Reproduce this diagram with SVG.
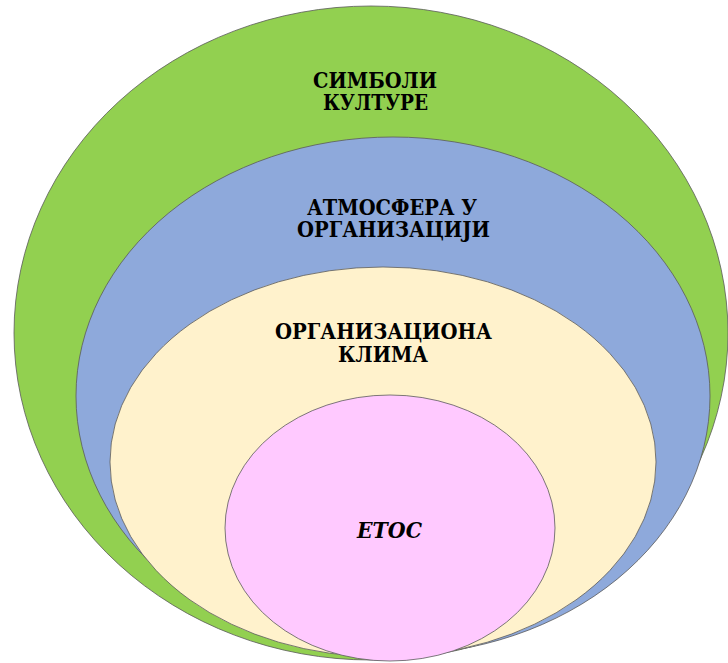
<svg xmlns="http://www.w3.org/2000/svg" width="728" height="663" viewBox="0 0 728 663">
  <style>
    .ring { stroke: #5a5a5a; stroke-width: 0.8; }
    .label { font-family: "DejaVu Serif", serif; font-stretch: condensed; font-size: 22px; font-weight: bold; fill: #000; text-anchor: middle; }
    .italic { font-style: italic; }
  </style>
  <rect width="728" height="663" fill="#ffffff"/>
  <!-- Nested layers, drawn from outside in -->
  <g id="symbols">
    <ellipse class="ring" cx="371" cy="333" rx="357" ry="327" fill="#92D050"/>
    <text class="label" x="375" y="88" textLength="124" lengthAdjust="spacingAndGlyphs">СИМБОЛИ</text>
    <text class="label" x="375.5" y="110" textLength="105" lengthAdjust="spacingAndGlyphs">КУЛТУРЕ</text>
  </g>
  <g id="atmosphere">
    <ellipse class="ring" cx="393" cy="396" rx="317" ry="259" fill="#8EA9DB"/>
    <text class="label" x="392" y="215" textLength="170" lengthAdjust="spacingAndGlyphs">АТМОСФЕРА У</text>
    <text class="label" x="393.5" y="237" textLength="193" lengthAdjust="spacingAndGlyphs">ОРГАНИЗАЦИЈИ</text>
  </g>
  <g id="climate">
    <ellipse class="ring" cx="383" cy="462" rx="273" ry="195" fill="#FFF2CC"/>
    <text class="label" x="383.5" y="339" textLength="217" lengthAdjust="spacingAndGlyphs">ОРГАНИЗАЦИОНА</text>
    <text class="label" x="383" y="362" textLength="90" lengthAdjust="spacingAndGlyphs">КЛИМА</text>
  </g>
  <g id="ethos">
    <ellipse class="ring" cx="390" cy="528" rx="165" ry="133" fill="#FFC9FF"/>
    <text class="label italic" x="389.5" y="538" textLength="65" lengthAdjust="spacingAndGlyphs">ЕТОС</text>
  </g>
</svg>
